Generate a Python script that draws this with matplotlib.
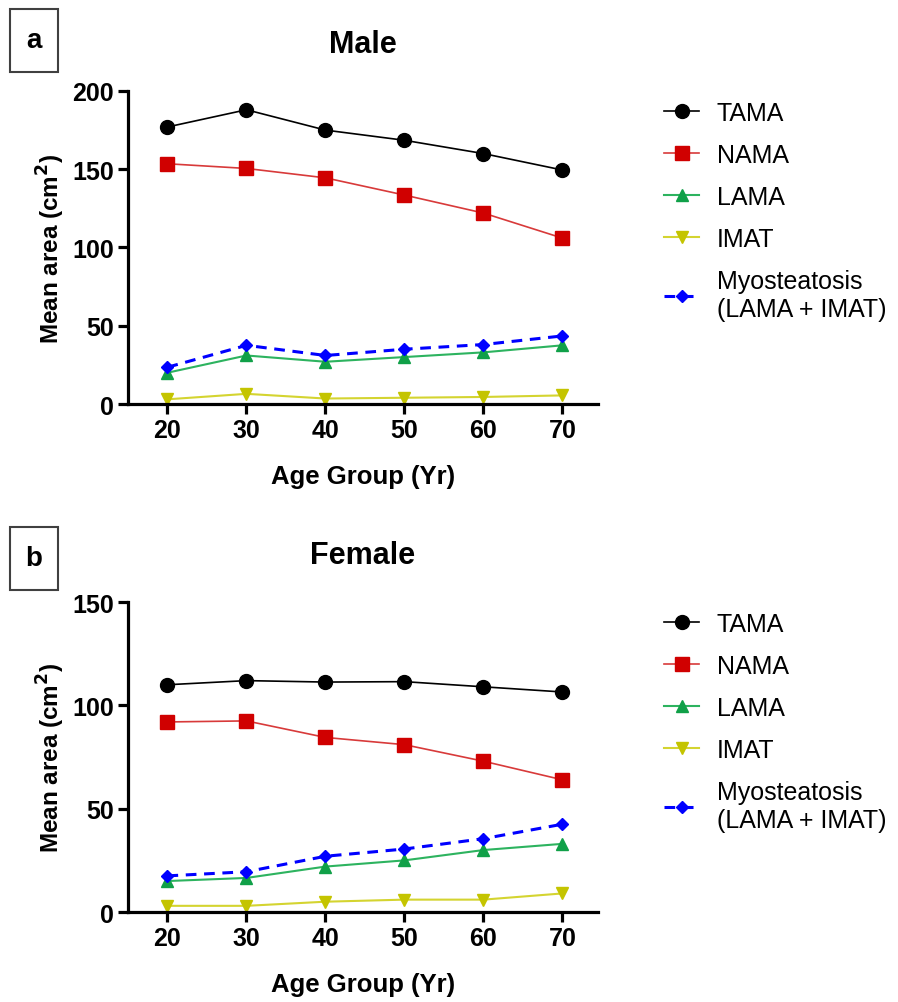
import matplotlib.pyplot as plt
from matplotlib.patches import Rectangle

plt.rcParams['font.family'] = ['Liberation Sans', 'DejaVu Sans']

# Age groups
ages = [20, 30, 40, 50, 60, 70]

# Male mean areas (cm^2)
male_tama = [177, 188, 175, 168.5, 160, 149.5]
male_nama = [153.5, 150.5, 144.5, 133.5, 122, 106]
male_lama = [20, 31, 27, 30, 33, 37.5]
male_imat = [3, 6.5, 3.5, 4, 4.5, 5.5]
male_myo = [23.5, 37.5, 31, 35, 38, 43.5]

# Female mean areas (cm^2)
female_tama = [110, 112, 111.3, 111.5, 109, 106.5]
female_nama = [92, 92.5, 84.5, 81, 73, 64]
female_lama = [15, 16.5, 22, 25, 30, 33]
female_imat = [3, 3, 5, 6, 6, 9]
female_myo = [17.5, 19.5, 27, 30.5, 35.5, 42.5]

labels = ["TAMA", "NAMA", "LAMA", "IMAT", "Myosteatosis\n(LAMA + IMAT)"]


def draw_panel(ax, series, ymax, yticks, title):
    tama, nama, lama, imat, myo = series
    ax.plot(ages, tama, color="black", lw=1.2, marker="o", ms=10,
            mfc="black", mec="black", label=labels[0])
    ax.plot(ages, nama, color="#d83a3a", lw=1.2, marker="s", ms=10,
            mfc="#d00000", mec="#d00000", label=labels[1])
    ax.plot(ages, lama, color="#2db35f", lw=1.5, marker="^", ms=9,
            mfc="#10a048", mec="#10a048", label=labels[2])
    ax.plot(ages, imat, color="#d4d430", lw=1.5, marker="v", ms=9,
            mfc="#c4c400", mec="#c4c400", label=labels[3])
    ax.plot(ages, myo, color="#0000ff", lw=2.2, ls=(0, (3.5, 2.5)), marker="D",
            ms=6.5, mfc="#0000ff", mec="#0000ff", label=labels[4])

    ax.set_xlim(15, 74.5)
    ax.set_ylim(0, ymax)
    ax.set_xticks(ages)
    ax.set_yticks(yticks)
    ax.spines["top"].set_visible(False)
    ax.spines["right"].set_visible(False)
    for s in ("left", "bottom"):
        ax.spines[s].set_linewidth(2.3)
    ax.tick_params(direction="out", length=7, width=2.3, labelsize=18, pad=3)
    for t in ax.get_xticklabels() + ax.get_yticklabels():
        t.set_fontweight("bold")
    ax.set_xlabel("Age Group (Yr)", fontsize=18.5, fontweight="bold", labelpad=16)
    ax.set_ylabel("Mean area (cm$^\\mathbf{2}$)", fontsize=17.5, fontweight="bold", labelpad=4)
    ax.set_title(title, fontsize=22, fontweight="bold", pad=28)
    for ln in ax.get_lines():
        ln.set_clip_on(False)
    ax.legend(loc="upper left", bbox_to_anchor=(1.12, 1.0), frameon=False,
              fontsize=18, handlelength=1.4, labelspacing=0.72, handletextpad=0.7,
              borderaxespad=0)


fig = plt.figure(figsize=(8.98, 10.03), dpi=100)
ax1 = fig.add_axes([0.1425, 0.5962, 0.5234, 0.3121])
ax2 = fig.add_axes([0.1425, 0.0897, 0.5234, 0.3090])

draw_panel(ax1, [male_tama, male_nama, male_lama, male_imat, male_myo],
           200, [0, 50, 100, 150, 200], "Male")
draw_panel(ax2, [female_tama, female_nama, female_lama, female_imat, female_myo],
           150, [0, 50, 100, 150], "Female")

# panel letters in boxes
for letter, ytop in (("a", 10), ("b", 528)):
    x0, w, h = 10 / 898, 48 / 898, 63 / 1003
    y0 = 1 - (ytop + 63) / 1003
    fig.patches.append(Rectangle((x0, y0), w, h, transform=fig.transFigure,
                                 fill=False, ec="#404040", lw=1.5))
    fig.text(x0 + w / 2, y0 + h / 2, letter, ha="center", va="center",
             fontsize=20, fontweight="bold")

fig.savefig("out.png", dpi=100)
